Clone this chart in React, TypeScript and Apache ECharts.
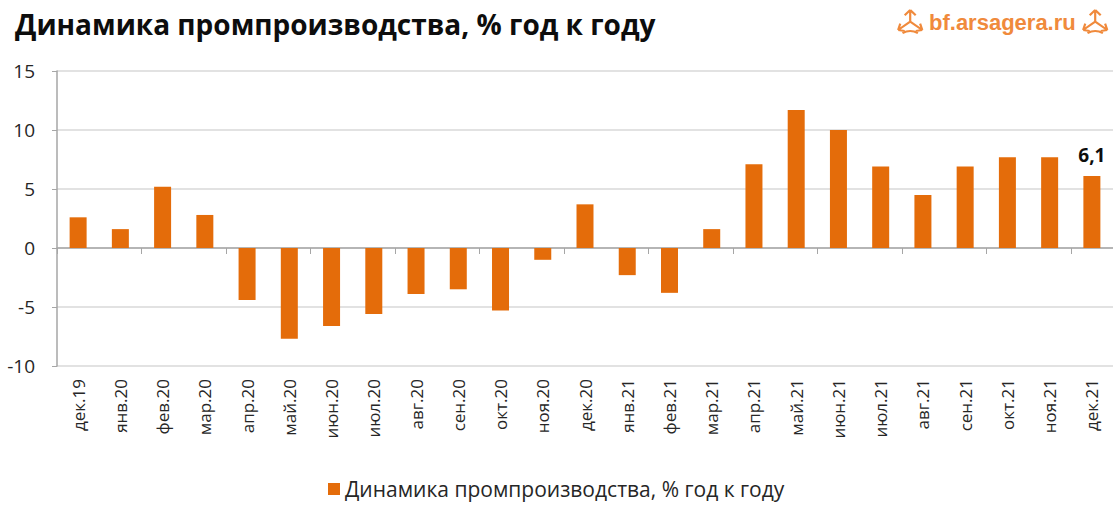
import React, { useEffect, useRef } from "react";
import * as echarts from "echarts";

const categories = [
  "дек.19", "янв.20", "фев.20", "мар.20", "апр.20", "май.20", "июн.20", "июл.20",
  "авг.20", "сен.20", "окт.20", "ноя.20", "дек.20", "янв.21", "фев.21", "мар.21",
  "апр.21", "май.21", "июн.21", "июл.21", "авг.21", "сен.21", "окт.21", "ноя.21", "дек.21",
];
const values = [
  2.6, 1.6, 5.2, 2.8, -4.4, -7.7, -6.6, -5.6, -3.9, -3.5, -5.3, -1.0, 3.7,
  -2.3, -3.8, 1.6, 7.1, 11.7, 10.0, 6.9, 4.5, 6.9, 7.7, 7.7, 6.1,
];
const seriesName = "Динамика промпроизводства, % год к году";
const titleText = "Динамика промпроизводства, % год к году";
const logoText = "bf.arsagera.ru";
const yMin = -10;
const yMax = 15;
const yStep = 5;

const ORANGE = "#E46C0A";
const LOGO = "#F08A3C";
const FONT = "Open Sans";

const iconPath =
  "M12 1 L12 12 M12 1 L7 6 M12 1 L17 6 M12 12 L1 20 M1 20 L3 14 M1 20 L7 21 M12 12 L23 20 M23 20 L21 14 M23 20 L17 21 M5 23 Q12 19 19 23";

let registered = false;
function registerIcon() {
  if (registered) return;
  registered = true;
  echarts.graphic.registerShape("logo", echarts.graphic.extendPath(iconPath, {}) as any);
}

export default function App() {
  const ref = useRef<HTMLDivElement>(null);
  useEffect(() => {
    if (!ref.current) return;
    registerIcon();
    const chart = echarts.init(ref.current, null, { renderer: "svg" });
    const lastIdx = values.length - 1;
    chart.setOption({
      animation: false,
      backgroundColor: "#ffffff",
      grid: { left: 57, right: 0, top: 71, bottom: 142, containLabel: false },
      title: {
        text: titleText,
        left: 10,
        top: 5,
        textStyle: { fontFamily: FONT, fontWeight: "bold", fontSize: 28, color: "#0d0d0d" },
      },
      legend: {
        top: 477,
        left: 328,
        itemWidth: 12,
        itemHeight: 12,
        icon: "rect",
        itemGap: 6,
        padding: 0,
        textStyle: { fontFamily: FONT, fontSize: 21, color: "#262626", lineHeight: 24 },
        data: [seriesName],
      },
      xAxis: [
        {
          type: "category",
          data: categories,
          position: "bottom",
          axisLine: { onZero: true, lineStyle: { color: "#A6A6A6", width: 1.5 } },
          axisTick: { show: true, length: 6, lineStyle: { color: "#A6A6A6" } },
          axisLabel: { show: false },
        },
        {
          type: "category",
          data: categories,
          position: "bottom",
          axisLine: { show: false, onZero: false },
          axisTick: { show: false },
          axisLabel: {
            show: true,
            rotate: 90,
            interval: 0,
            margin: 13,
            fontFamily: FONT,
            fontSize: 17,
            color: "#262626",
          },
        },
      ],
      yAxis: {
        type: "value",
        min: yMin,
        max: yMax,
        interval: yStep,
        axisLine: { show: true, lineStyle: { color: "#A6A6A6", width: 1.5 } },
        axisTick: { show: true, length: 5, lineStyle: { color: "#A6A6A6" } },
        splitLine: { lineStyle: { color: "#D9D9D9", width: 1.5 } },
        axisLabel: { margin: 22, fontFamily: FONT, fontSize: 19, color: "#262626" },
      },
      series: [
        {
          name: seriesName,
          type: "bar",
          xAxisIndex: 0,
          data: values.map((v, i) =>
            i === lastIdx
              ? {
                  value: v,
                  label: {
                    show: true,
                    position: "top",
                    distance: 12,
                    formatter: (p: any) => String(p.value).replace(".", ","),
                    fontFamily: FONT,
                    fontWeight: "bold",
                    fontSize: 19,
                    color: "#0d0d0d",
                  },
                }
              : v
          ),
          barWidth: 17,
          itemStyle: { color: ORANGE },
        },
      ],
      graphic: [
        {
          type: "logo",
          x: 897,
          y: 9,
          scaleX: 1.1,
          scaleY: 1.05,
          style: { stroke: LOGO, fill: "none", lineWidth: 2 },
        },
        {
          type: "text",
          x: 929,
          y: 22,
          style: {
            text: logoText,
            fill: LOGO,
            font: "bold 22px 'Liberation Sans'",
            textVerticalAlign: "middle",
          },
        },
        {
          type: "logo",
          x: 1082,
          y: 9,
          scaleX: 1.1,
          scaleY: 1.05,
          style: { stroke: LOGO, fill: "none", lineWidth: 2 },
        },
      ],
    });
    return () => chart.dispose();
  }, []);
  return <div ref={ref} style={{ width: 1113, height: 508, position: "absolute", left: 0, top: 0 }} />;
}
